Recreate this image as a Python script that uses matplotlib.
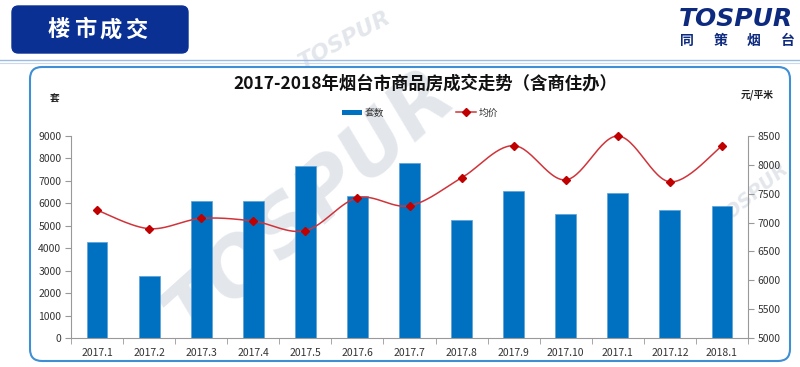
import numpy as np
import matplotlib
matplotlib.use("Agg")
import matplotlib.pyplot as plt
from matplotlib.patches import FancyBboxPatch, Rectangle
from matplotlib.lines import Line2D

plt.rcParams['font.family'] = ['Noto Sans CJK SC', 'DejaVu Sans']

categories = ["2017.1", "2017.2", "2017.3", "2017.4", "2017.5", "2017.6", "2017.7",
              "2017.8", "2017.9", "2017.10", "2017.1", "2017.12", "2018.1"]
units = [4260, 2750, 6100, 6100, 7650, 6340, 7800, 5240, 6570, 5510, 6480, 5710, 5860]
price = [7216, 6894, 7072, 7026, 6859, 7429, 7291, 7775, 8333, 7740, 8500, 7706, 8328]

title = "2017-2018年烟台市商品房成交走势（含商住办）"
header_chars = ["楼", "市", "成", "交"]
logo_chars = ["同", "策", "烟", "台"]
unit_left = "套"
unit_right = "元/平米"
legend_bar = "套数"
legend_line = "均价"

W, H = 800, 367
fig = plt.figure(figsize=(W / 100, H / 100), dpi=100)
fig.patch.set_facecolor("white")

def fx(px):
    return px / W

def fy(py):
    return 1 - py / H

# watermarks
wm_color = "#E3E7EC"
fig.text(fx(310), fy(205), "TOSPUR", fontsize=57, fontweight="bold", style="italic",
         family="DejaVu Sans", color=wm_color, rotation=42, ha="center", va="center", zorder=0)
fig.text(fx(345), fy(40), "TOSPUR", fontsize=16, fontweight="bold", style="italic",
         family="DejaVu Sans", color=wm_color, rotation=28, ha="center", va="center", zorder=0)
fig.text(fx(752), fy(195), "TOSPUR", fontsize=14, fontweight="bold", style="italic",
         family="DejaVu Sans", color=wm_color, rotation=40, ha="center", va="center", zorder=0)

# header box
hb = FancyBboxPatch((fx(12), fy(53)), fx(176), 47 / H,
                    boxstyle="round,pad=0,rounding_size=0.008",
                    transform=fig.transFigure, facecolor="#0A3094", edgecolor="#0A3094",
                    zorder=2, mutation_aspect=W / H)
fig.add_artist(hb)
for i, ch in enumerate(header_chars):
    fig.text(fx(59 + i * 25.7), fy(30), ch, fontsize=16, fontweight="bold", color="white",
             ha="center", va="center", zorder=3)

# top separator lines
fig.add_artist(Line2D([0, 1], [fy(60), fy(60)], transform=fig.transFigure, color="#9DBBE0", lw=1.0, zorder=2))
fig.add_artist(Line2D([0, 1], [fy(62.5), fy(62.5)], transform=fig.transFigure, color="#C9D9EE", lw=0.8, zorder=2))

# logo
fig.text(fx(736), fy(19), "TOSPUR", fontsize=18, fontweight="bold", style="italic",
         family="DejaVu Sans", color="#0D2A7E", ha="center", va="center", zorder=3)
for i, ch in enumerate(logo_chars):
    fig.text(fx(687 + i * 33.5), fy(41), ch, fontsize=10, fontweight="bold",
             color="#0D2A7E", ha="center", va="center", zorder=3)

# rounded chart frame
frame = FancyBboxPatch((fx(30), fy(361)), fx(760), (361 - 67) / H,
                       boxstyle="round,pad=0,rounding_size=0.015",
                       transform=fig.transFigure, facecolor="none", edgecolor="#3F8FD6",
                       lw=1.5, zorder=2, mutation_aspect=W / H)
fig.add_artist(frame)

# axes
ax = fig.add_axes([fx(71), fy(338), fx(748 - 71), (338 - 136) / H])
ax.patch.set_alpha(0)
ax.set_zorder(3)
x = np.arange(len(categories))
ax.bar(x, units, width=0.4, color="#0070C0", edgecolor="#5AA0DA", linewidth=0.5, zorder=2)
ax.set_xlim(-0.5, len(categories) - 0.5)
ax.set_ylim(0, 9000)
ax.set_yticks(np.arange(0, 9001, 1000))
ax.set_xticks(x)
ax.set_xticklabels(categories)
ax.set_xticks(np.arange(-0.5, len(categories), 1), minor=True)
ax.tick_params(axis="x", which="major", length=0, pad=7, labelsize=7.5, colors="#333333")
ax.tick_params(axis="x", which="minor", length=4, color="#999999", direction="out")
ax.tick_params(axis="y", length=4, color="#999999", labelsize=7.5, labelcolor="#333333", pad=3)
for s in ["top", "right"]:
    ax.spines[s].set_visible(False)
for s in ["left", "bottom"]:
    ax.spines[s].set_color("#999999")
    ax.spines[s].set_linewidth(0.8)

ax2 = ax.twinx()
ax2.set_ylim(5000, 8500)
ax2.set_yticks(np.arange(5000, 8501, 500))
ax2.tick_params(axis="y", length=4, color="#999999", labelsize=7.5, labelcolor="#333333", pad=3)
for s in ["top", "left", "bottom"]:
    ax2.spines[s].set_visible(False)
ax2.spines["right"].set_color("#999999")
ax2.spines["right"].set_linewidth(0.8)

# smooth curve (Catmull-Rom through data points)
px = np.array(x, dtype=float)
py = np.array(price, dtype=float)
P = np.column_stack([px, py])
Pe = np.vstack([P[0], P, P[-1]])
cx, cy = [], []
t = np.linspace(0, 1, 30)
for i in range(1, len(Pe) - 2):
    p0, p1, p2, p3 = Pe[i - 1], Pe[i], Pe[i + 1], Pe[i + 2]
    c1 = p1 + (p2 - p0) / 6
    c2 = p2 - (p3 - p1) / 6
    b = ((1 - t) ** 3)[:, None] * p1 + (3 * (1 - t) ** 2 * t)[:, None] * c1 + \
        (3 * (1 - t) * t ** 2)[:, None] * c2 + (t ** 3)[:, None] * p2
    cx.extend(b[:, 0]); cy.extend(b[:, 1])
ax2.plot(cx, cy, color="#D0343A", lw=1.1, zorder=3, clip_on=False)
ax2.plot(px, py, linestyle="none", marker="D", markersize=4.5, color="#C00000", zorder=4, clip_on=False)

# title and unit labels
fig.text(fx(425), fy(84), title, fontsize=12.5, fontweight="bold", color="#111111",
         ha="center", va="center", zorder=4)
fig.text(fx(55), fy(99), unit_left, fontsize=7, fontweight="bold", color="#222222",
         ha="center", va="center", zorder=4)
fig.text(fx(757), fy(95), unit_right, fontsize=7, fontweight="bold", color="#222222",
         ha="center", va="center", zorder=4)

# legend
fig.add_artist(Rectangle((fx(342), fy(115)), fx(20), 5 / H, transform=fig.transFigure,
                         facecolor="#0070C0", edgecolor="none", zorder=4))
fig.text(fx(365), fy(112.5), legend_bar, fontsize=7, color="#333333", ha="left", va="center", zorder=4)
fig.add_artist(Line2D([fx(456), fx(476)], [fy(112.5), fy(112.5)], transform=fig.transFigure,
                      color="#D0343A", lw=1.1, zorder=4))
fig.add_artist(Line2D([fx(466)], [fy(112.5)], transform=fig.transFigure, marker="D",
                      markersize=4.5, color="#C00000", linestyle="none", zorder=5))
fig.text(fx(479), fy(112.5), legend_line, fontsize=7, color="#333333", ha="left", va="center", zorder=4)

fig.savefig("out.png", dpi=100, facecolor="white")
